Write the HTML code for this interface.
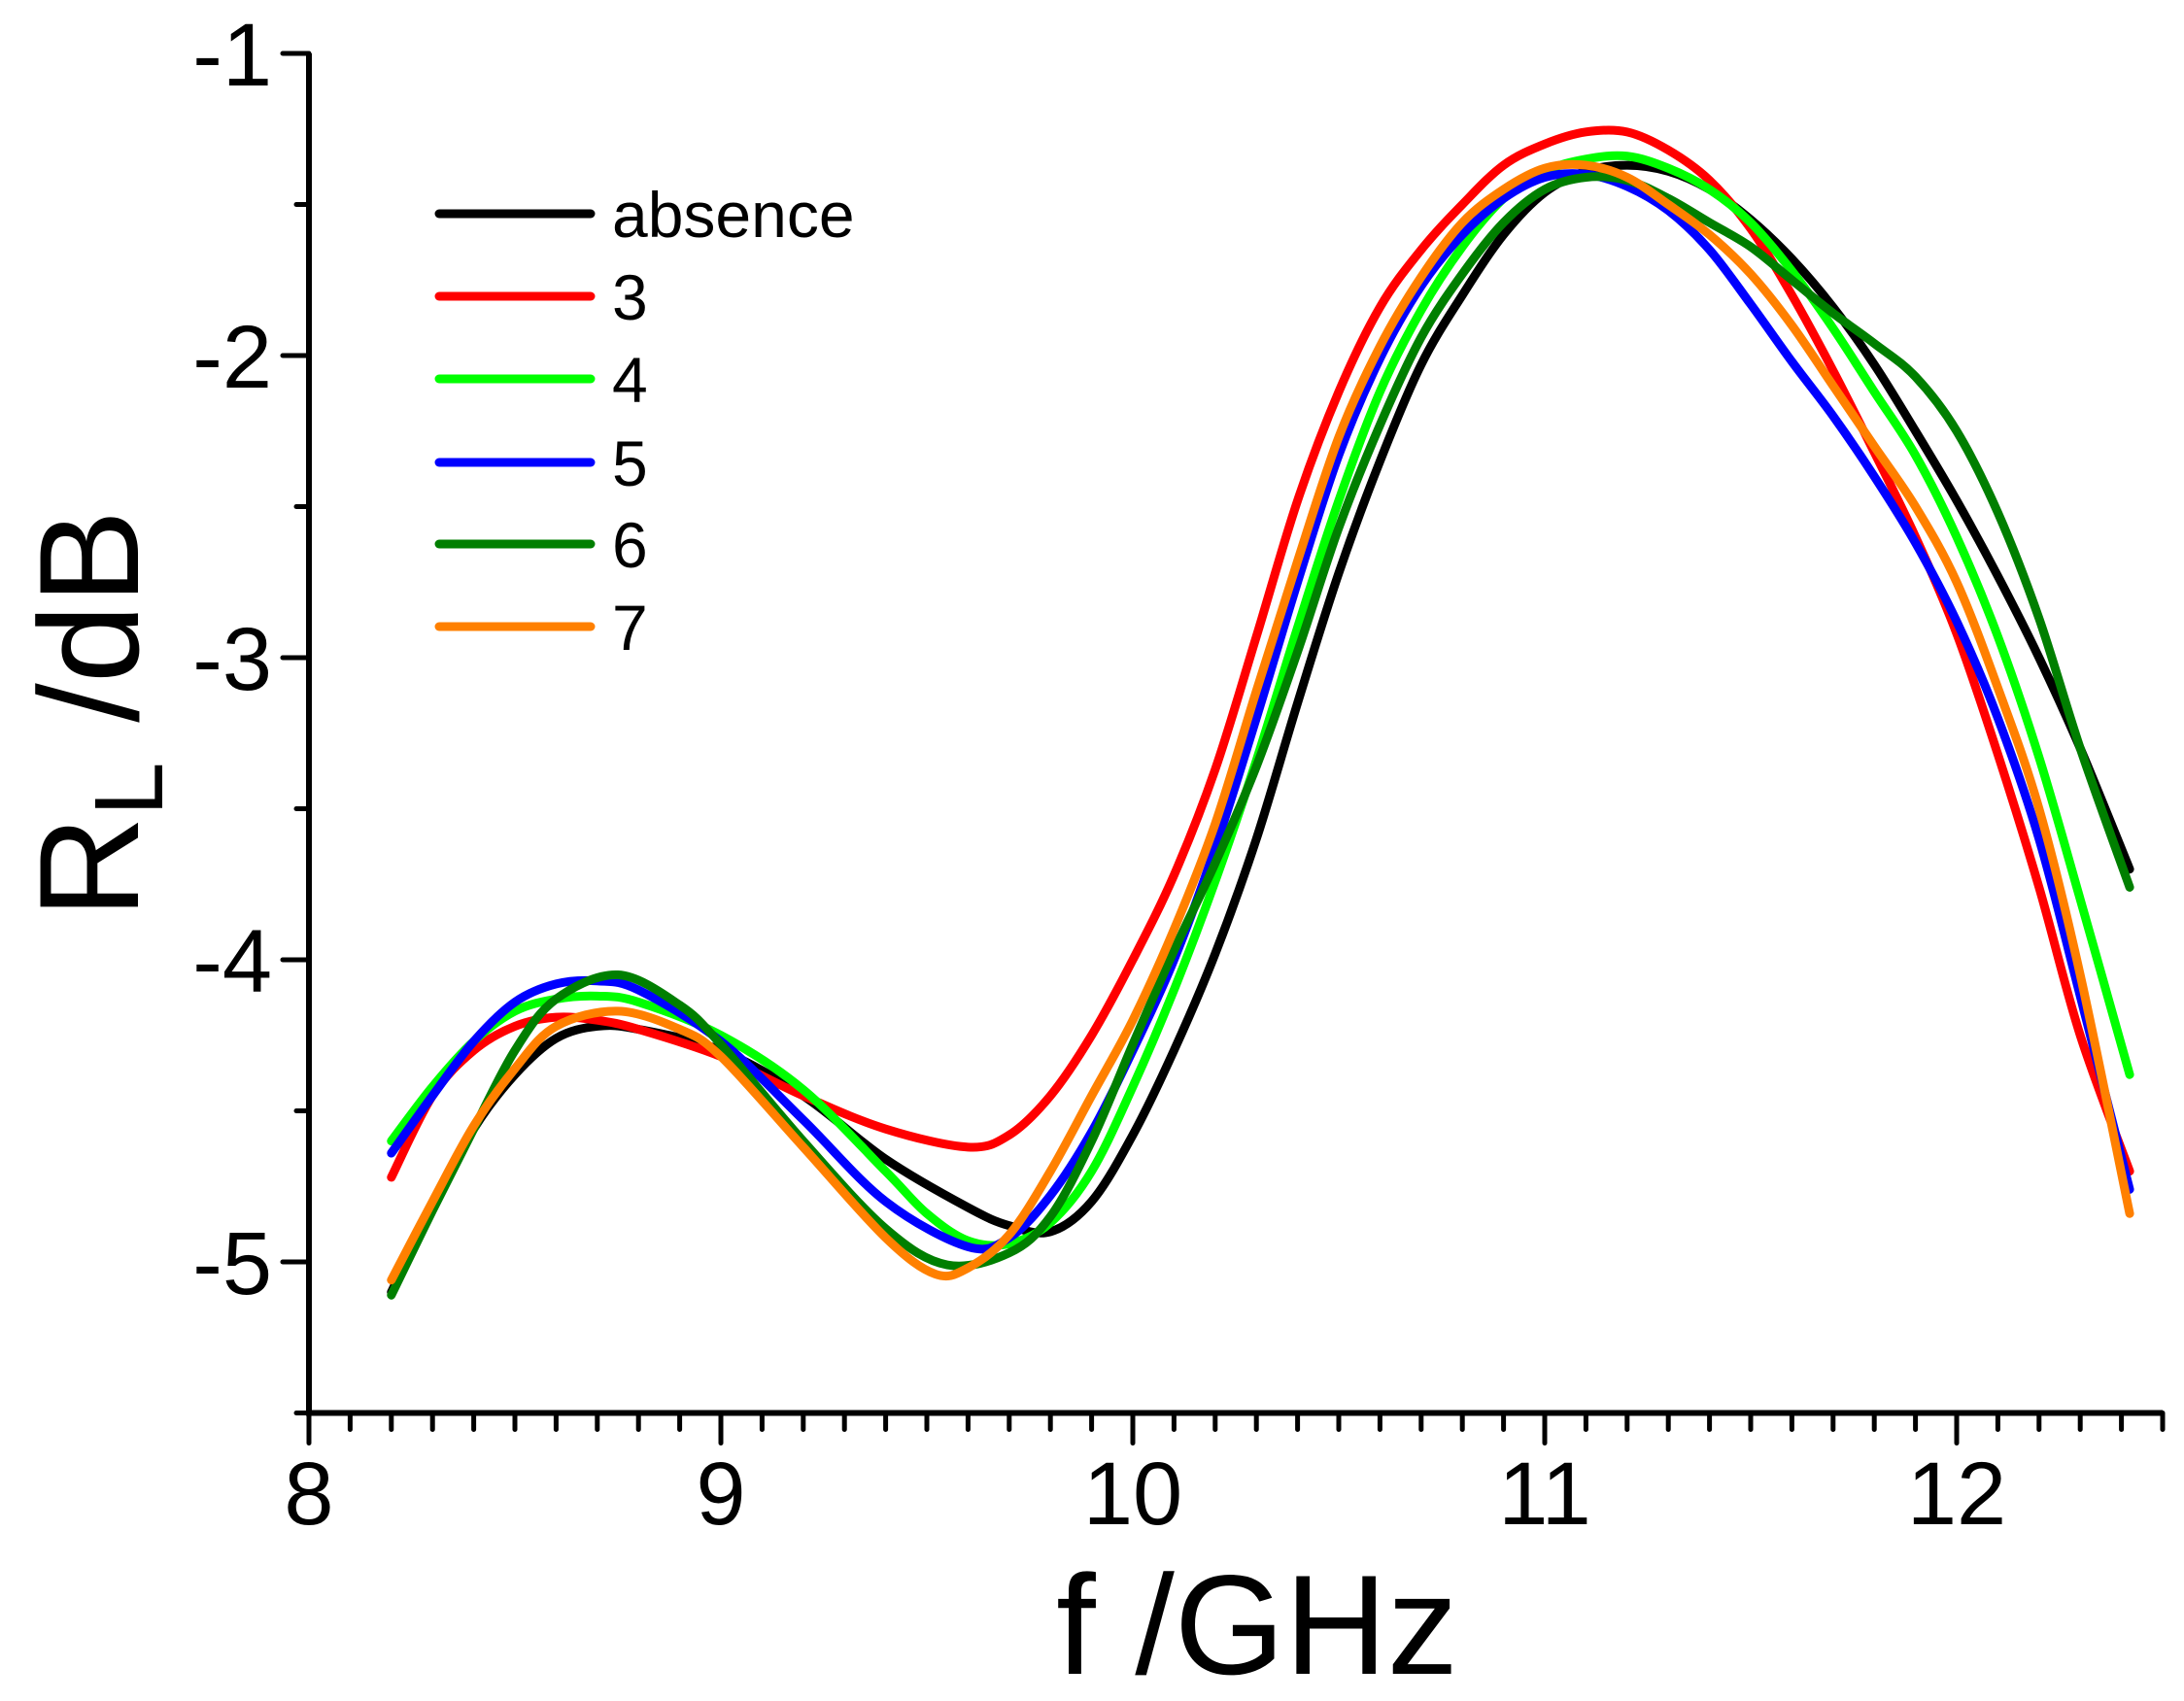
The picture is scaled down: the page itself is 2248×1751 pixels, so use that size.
<!DOCTYPE html>
<html><head><meta charset="utf-8"><style>
html,body{margin:0;padding:0;background:#fff;}
svg{display:block;font-family:"Liberation Sans",Arial,sans-serif;}
</style></head><body>
<svg id="chart" width="2248" height="1751" viewBox="0 0 2248 1751" xmlns="http://www.w3.org/2000/svg">
<g id="axes"></g>
<g id="series"></g>
<g id="legend"></g>
<text x="1294" y="1723" font-size="146" text-anchor="middle">f /GHz</text>
<text transform="translate(142,735) rotate(-90)" font-size="146" text-anchor="middle">R<tspan font-size="100" dy="25">L</tspan><tspan dy="-25"> /dB</tspan></text>
</svg>
<script>
const xTicks=[8,9,10,11,12];
const yTicks=[-1,-2,-3,-4,-5];
const seriesNames=["absence","3","4","5","6","7"];
const seriesColors=["#000000","#ff0000","#00ff00","#0000ff","#007f00","#ff8000"];
const xAbsence=[8.2,8.3,8.4,8.5,8.6,8.7,8.8,9.0,9.2,9.4,9.6,9.7,9.8,9.9,10.0,10.1,10.2,10.3,10.4,10.5,10.6,10.7,10.8,10.9,11.0,11.1,11.2,11.3,11.4,11.5,11.6,11.7,11.8,11.9,12.0,12.1,12.2,12.3,12.42];
const yAbsence=[-5.1,-4.82,-4.56,-4.38,-4.26,-4.22,-4.23,-4.3,-4.45,-4.66,-4.82,-4.88,-4.9,-4.8,-4.58,-4.3,-3.98,-3.6,-3.15,-2.72,-2.35,-2.03,-1.8,-1.6,-1.46,-1.39,-1.37,-1.39,-1.45,-1.55,-1.68,-1.84,-2.03,-2.25,-2.48,-2.73,-3.0,-3.3,-3.7];
const x3=[8.2,8.3,8.4,8.5,8.6,8.7,8.8,9.0,9.2,9.4,9.6,9.7,9.8,9.9,10.0,10.1,10.2,10.3,10.4,10.5,10.6,10.7,10.8,10.9,11.0,11.1,11.2,11.3,11.4,11.5,11.6,11.7,11.8,11.9,12.0,12.1,12.2,12.3,12.42];
const y3=[-4.72,-4.45,-4.3,-4.22,-4.19,-4.2,-4.23,-4.32,-4.45,-4.56,-4.62,-4.58,-4.45,-4.25,-4.0,-3.72,-3.37,-2.93,-2.48,-2.12,-1.84,-1.65,-1.5,-1.37,-1.3,-1.26,-1.26,-1.32,-1.42,-1.58,-1.8,-2.05,-2.32,-2.6,-2.92,-3.32,-3.76,-4.25,-4.7];
const x4=[8.2,8.3,8.4,8.5,8.6,8.7,8.8,9.0,9.2,9.4,9.5,9.6,9.7,9.8,9.9,10.0,10.1,10.2,10.3,10.4,10.5,10.6,10.7,10.8,10.9,11.0,11.1,11.2,11.3,11.4,11.5,11.6,11.7,11.8,11.9,12.0,12.1,12.2,12.3,12.42];
const y4=[-4.6,-4.42,-4.27,-4.17,-4.13,-4.12,-4.14,-4.25,-4.43,-4.7,-4.84,-4.93,-4.94,-4.87,-4.7,-4.42,-4.1,-3.74,-3.34,-2.9,-2.48,-2.12,-1.85,-1.64,-1.48,-1.39,-1.35,-1.34,-1.38,-1.45,-1.56,-1.72,-1.91,-2.12,-2.33,-2.6,-2.93,-3.33,-3.8,-4.38];
const x5=[8.2,8.3,8.4,8.5,8.6,8.7,8.8,9.0,9.2,9.4,9.6,9.7,9.8,9.9,10.0,10.1,10.2,10.3,10.4,10.5,10.6,10.7,10.8,10.9,11.0,11.1,11.2,11.3,11.4,11.5,11.6,11.7,11.8,11.9,12.0,12.1,12.2,12.3,12.42];
const y5=[-4.64,-4.45,-4.27,-4.14,-4.08,-4.07,-4.1,-4.27,-4.53,-4.8,-4.95,-4.92,-4.78,-4.57,-4.3,-4.0,-3.63,-3.2,-2.75,-2.33,-2.01,-1.77,-1.6,-1.48,-1.41,-1.4,-1.44,-1.52,-1.65,-1.83,-2.02,-2.2,-2.4,-2.62,-2.88,-3.2,-3.6,-4.12,-4.76];
const x6=[8.2,8.3,8.4,8.5,8.6,8.75,8.9,9.0,9.2,9.4,9.55,9.7,9.8,9.9,10.0,10.1,10.2,10.3,10.4,10.5,10.6,10.7,10.8,10.9,11.0,11.1,11.2,11.3,11.4,11.5,11.6,11.7,11.8,11.9,12.0,12.1,12.2,12.3,12.42];
const y6=[-5.11,-4.83,-4.56,-4.3,-4.13,-4.05,-4.15,-4.28,-4.6,-4.89,-5.01,-4.97,-4.85,-4.6,-4.28,-3.97,-3.68,-3.36,-2.98,-2.57,-2.23,-1.94,-1.73,-1.56,-1.45,-1.41,-1.42,-1.48,-1.56,-1.64,-1.75,-1.86,-1.96,-2.07,-2.25,-2.52,-2.87,-3.3,-3.76];
const x7=[8.2,8.3,8.4,8.5,8.6,8.75,8.9,9.0,9.2,9.4,9.52,9.6,9.7,9.8,9.9,10.0,10.1,10.2,10.3,10.4,10.5,10.6,10.7,10.8,10.9,11.0,11.1,11.2,11.3,11.4,11.5,11.6,11.7,11.8,11.9,12.0,12.1,12.2,12.3,12.42];
const y7=[-5.06,-4.8,-4.55,-4.36,-4.22,-4.17,-4.23,-4.32,-4.62,-4.92,-5.04,-5.02,-4.91,-4.7,-4.45,-4.2,-3.9,-3.55,-3.11,-2.68,-2.27,-1.97,-1.74,-1.56,-1.45,-1.38,-1.37,-1.41,-1.5,-1.6,-1.73,-1.9,-2.1,-2.3,-2.5,-2.75,-3.1,-3.5,-4.05,-4.84];

const NS="http://www.w3.org/2000/svg";
const X0=318,PX=424,Y0=55,PY=311;
function sx(v){return X0+(v-8)*PX;}
function sy(v){return Y0+(-1-v)*PY;}
function mk(tag,parent,attrs){const e=document.createElementNS(NS,tag);for(const k in attrs)e.setAttribute(k,attrs[k]);parent.appendChild(e);return e;}
const axes=document.getElementById('axes');
const yB=sy(-5.5), xR=sx(12.5);
let l=mk('line',axes,{x1:X0,y1:Y0,x2:X0,y2:yB+3,stroke:'#000','stroke-width':6});


l=mk('line',axes,{x1:X0-3,y1:yB,x2:xR,y2:yB,stroke:'#000','stroke-width':6});


for(let i=0;i<=45;i++){
  const v=8+i*0.1; const major=i%10===0;
  const t=mk('line',axes,{x1:sx(v),y1:yB,x2:sx(v),y2:yB+(major?31:17),stroke:'#000','stroke-width':5,'stroke-linecap':'round'});
  
  
}
xTicks.forEach(v=>{
  const t=mk('text',axes,{x:sx(v),y:1569,'font-size':92,'text-anchor':'middle'});
  t.textContent=String(v);
  
  
});
for(let i=0;i<=9;i++){
  const v=-1-i*0.5; const major=i%2===0;
  const t=mk('line',axes,{x1:X0,y1:sy(v),x2:X0-(major?27:13),y2:sy(v),stroke:'#000','stroke-width':5,'stroke-linecap':'round'});
  
  
}
yTicks.forEach(v=>{
  const t=mk('text',axes,{x:280,y:sy(v)+33,'font-size':92,'text-anchor':'end'});
  t.textContent=String(v);
  
  
});
function pathFor(xs,ys){
  const p=xs.map((x,i)=>[sx(x),sy(ys[i])]);
  let d='M'+p[0][0]+','+p[0][1];
  for(let i=0;i<p.length-1;i++){
    const p0=p[Math.max(0,i-1)],p1=p[i],p2=p[i+1],p3=p[Math.min(p.length-1,i+2)];
    const c1=[p1[0]+(p2[0]-p0[0])/6,p1[1]+(p2[1]-p0[1])/6];
    const c2=[p2[0]-(p3[0]-p1[0])/6,p2[1]-(p3[1]-p1[1])/6];
    d+=' C'+c1[0]+','+c1[1]+' '+c2[0]+','+c2[1]+' '+p2[0]+','+p2[1];
  }
  return d;
}
const allX=[xAbsence,x3,x4,x5,x6,x7], allY=[yAbsence,y3,y4,y5,y6,y7];
const ser=document.getElementById('series');
allX.forEach((xs,i)=>{
  const p=mk('path',ser,{d:pathFor(xs,allY[i]),fill:'none',stroke:seriesColors[i],'stroke-width':9,'stroke-linejoin':'round','stroke-linecap':'round'});
  
  
});
const leg=document.getElementById('legend');
const legY=[220,305,390,476,560,645];
seriesNames.forEach((n,i)=>{
  const ln=mk('line',leg,{x1:452,y1:legY[i],x2:608,y2:legY[i],stroke:seriesColors[i],'stroke-width':9,'stroke-linecap':'round'});
  
  
  const t=mk('text',leg,{x:630,y:legY[i]+24,'font-size':66});
  t.textContent=n;
  
  
});
</script>
</body></html>
